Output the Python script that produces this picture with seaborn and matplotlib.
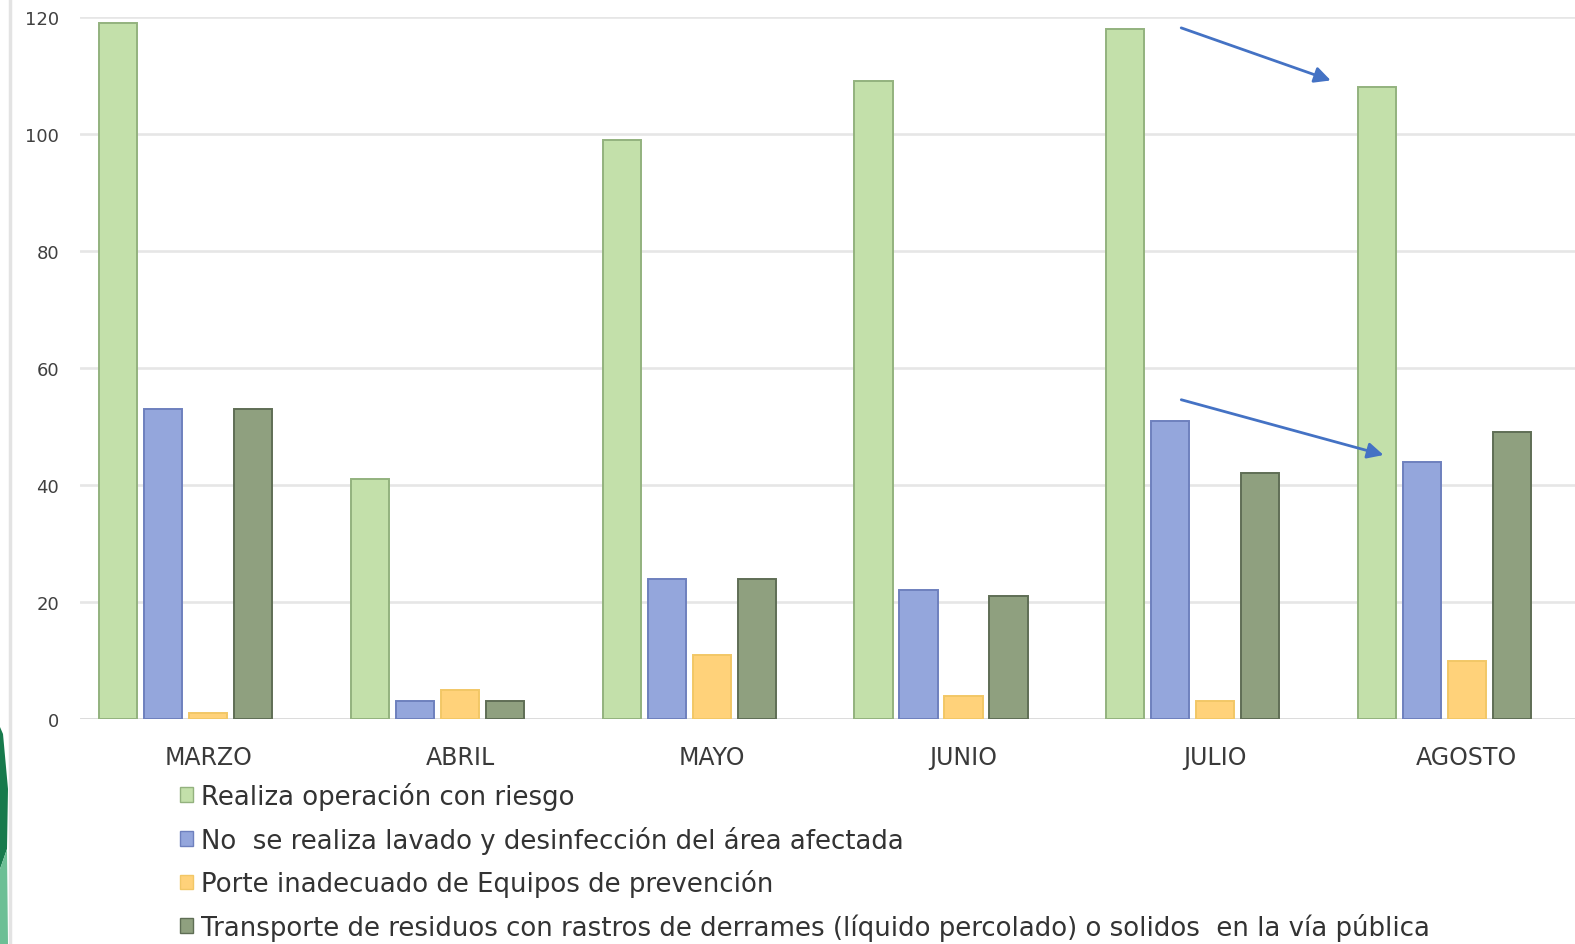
import pandas as pd
import matplotlib.pyplot as plt
import seaborn as sns
from matplotlib.patches import Patch, Polygon
from matplotlib.lines import Line2D

# Datos
meses = ["MARZO", "ABRIL", "MAYO", "JUNIO", "JULIO", "AGOSTO"]
series = [
    "Realiza operación con riesgo",
    "No  se realiza lavado y desinfección del área afectada",
    "Porte inadecuado de Equipos de prevención",
    "Transporte de residuos con rastros de derrames (líquido percolado) o solidos  en la vía pública",
]
realiza = [119, 41, 99, 109, 118, 108]
lavado = [53, 3, 24, 22, 51, 44]
porte = [1, 5, 11, 4, 3, 10]
transporte = [53, 3, 24, 21, 42, 49]
y_ticks = [0, 20, 40, 60, 80, 100, 120]

colores = ["#C3E0AA", "#94A6DC", "#FFD27A", "#8FA07F"]
bordes = ["#93B27E", "#6E80BE", "#F2C766", "#5F6E55"]

df = pd.DataFrame({
    "mes": meses * 4,
    "serie": [s for s in series for _ in meses],
    "valor": realiza + lavado + porte + transporte,
})

# the Excel chart reserves a fifth (empty) slot in every group
hue_order = series + ["(vacío)"]
palette = dict(zip(hue_order, colores + ["#FFFFFF"]))

sns.set_style("white")
plt.rcParams["font.family"] = ["DejaVu Sans"]

fig = plt.figure(figsize=(15.75, 9.45), dpi=100)
ax = fig.add_axes([80 / 1575, 1 - 720 / 945, 1 - 80 / 1575, (720 - 18) / 945])

sns.barplot(
    data=df, x="mes", y="valor", hue="serie", hue_order=hue_order,
    order=meses, palette=palette, width=0.894, gap=0.15, saturation=1,
    errorbar=None, legend=False, ax=ax, zorder=3,
)
for cont, borde in zip(ax.containers, bordes):
    for bar in cont:
        bar.set_edgecolor(borde)
        bar.set_linewidth(1.4)

ax.set_ylim(0, 120)
ax.set_xlim(-0.51, 5.43)
ax.set_yticks(y_ticks)
ax.yaxis.grid(True, color="#E6E6E6", linewidth=1.9, zorder=0)
ax.set_axisbelow(True)
for sp in ax.spines.values():
    sp.set_visible(False)
ax.axhline(0, color="#D9D9D9", linewidth=1.9, zorder=2)
ax.set_xlabel("")
ax.set_ylabel("")
ax.tick_params(axis="y", length=0, pad=15, labelsize=13, labelcolor="#404040")
ax.tick_params(axis="x", length=0, pad=19, labelsize=17, labelcolor="#3A3A3A")

# flechas azules
flecha = dict(arrowstyle="-|>", color="#4472C4", lw=2, mutation_scale=24)
ax.annotate("", xy=(4.47, 109.0), xytext=(3.855, 118.3), arrowprops=flecha)
ax.annotate("", xy=(4.68, 45.0), xytext=(3.855, 54.7), arrowprops=flecha)

# leyenda abajo
handles = [Patch(facecolor=c, edgecolor=b, linewidth=1) for c, b in zip(colores, bordes)]
fig.legend(
    handles, series, loc="upper left", bbox_to_anchor=(180 / 1575, 1 - 783 / 945),
    frameon=False, fontsize=18.7, labelcolor="#333333", handlelength=0.5,
    handleheight=0.5, handletextpad=0.3, labelspacing=0.6, borderaxespad=0,
    borderpad=0,
)

# borde y adorno verde a la izquierda
fig.add_artist(Line2D([10 / 1575, 10 / 1575], [0, 1], color="#E3E3E3", lw=2.5))
fig.add_artist(Polygon(
    [(0, 1 - 728 / 945), (3 / 1575, 1 - 735 / 945), (8 / 1575, 1 - 790 / 945),
     (7 / 1575, 1 - 850 / 945), (0, 1 - 870 / 945)],
    closed=True, facecolor="#177A4C", edgecolor="none", transform=fig.transFigure))
fig.add_artist(Polygon(
    [(0, 1 - 870 / 945), (7 / 1575, 1 - 850 / 945), (8 / 1575, 0), (0, 0)],
    closed=True, facecolor="#6CBF95", edgecolor="none", transform=fig.transFigure))

fig.savefig("out.png", dpi=100)
